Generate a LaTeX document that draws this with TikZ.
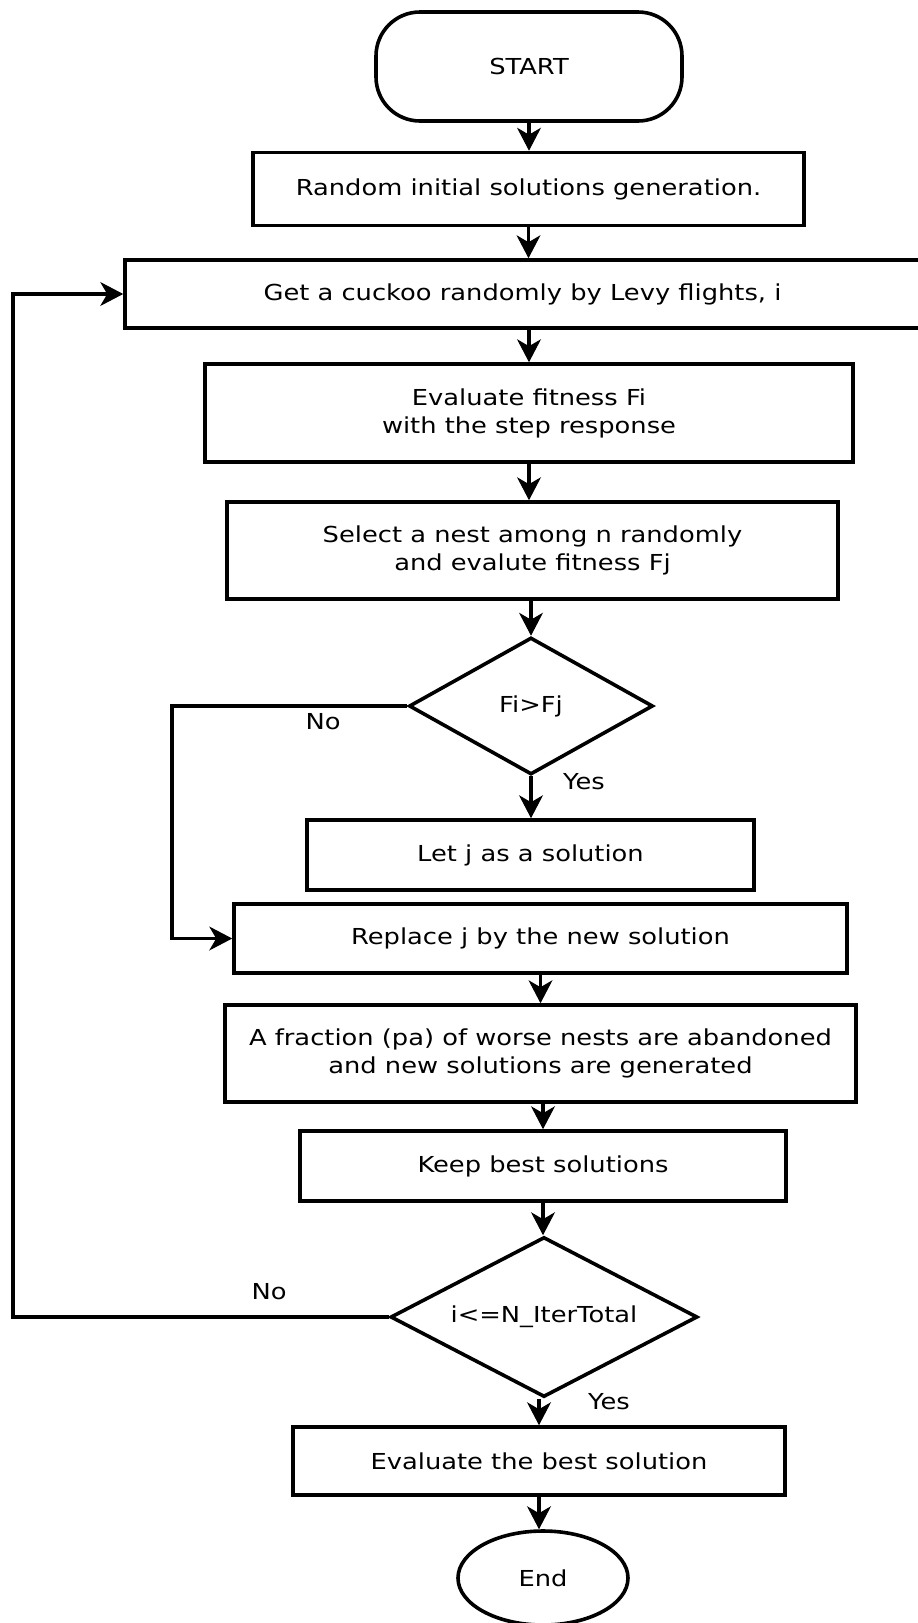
\documentclass[tikz,border=0pt]{standalone}
\usepackage{fontspec}
\setmainfont{DejaVu Sans}[FakeStretch=1.17]
\usetikzlibrary{shapes.geometric,arrows.meta}
\begin{document}
\begin{tikzpicture}[x=1pt,y=-1pt,
  line width=3.6pt,
  every node/.style={font=\fontsize{22}{28}\selectfont, inner sep=0pt, align=center},
  proc/.style={draw, rectangle},
  term/.style={draw, rectangle, rounded corners=44pt},
  endterm/.style={draw, ellipse},
  decision/.style={draw, diamond, shape aspect=1.9},
  arr/.style={-{Stealth[length=23pt,width=24pt,inset=7pt,line width=1pt]}},
]
\useasboundingbox (0,0) rectangle (918,1623);

% process steps
\node[term, minimum width=306pt, minimum height=109pt] (start) at (529,66.5) {START};
\node[proc, minimum width=551pt, minimum height=73pt] (init) at (528.5,189) {Random initial solutions generation.};
\node[proc, minimum width=795pt, minimum height=68pt] (levy) at (522.5,294) {Get a cuckoo randomly by Levy flights, i};
\node[proc, minimum width=648pt, minimum height=98pt] (evalfi) at (529,413) {Evaluate fitness Fi\\with the step response};
\node[proc, minimum width=611pt, minimum height=97pt] (select) at (532.5,550.5) {Select a nest among n randomly\\and evalute fitness Fj};
\node[decision, minimum width=244pt, minimum height=137pt] (dec1) at (531,706) {Fi>Fj};
\node[proc, minimum width=447pt, minimum height=70pt] (letj) at (530.5,855) {Let j as a solution};
\node[proc, minimum width=613pt, minimum height=69pt] (replace) at (540.5,938.5) {Replace j by the new solution};
\node[proc, minimum width=631pt, minimum height=97pt] (fraction) at (540.5,1053.5) {A fraction (pa) of worse nests are abandoned\\and new solutions are generated};
\node[proc, minimum width=486pt, minimum height=70pt] (keep) at (543,1166) {Keep best solutions};
\node[decision, minimum width=307pt, minimum height=160pt] (dec2) at (544,1317) {i<=N\_IterTotal};
\node[proc, minimum width=492pt, minimum height=68pt] (best) at (539,1461) {Evaluate the best solution};
\node[endterm, minimum width=170pt, minimum height=94pt] (end) at (543,1578) {End};

% branch labels
\node (no1) at (323,722) {No};
\node (yes1) at (584,782) {Yes};
\node (no2) at (269,1292) {No};
\node (yes2) at (609,1402) {Yes};

% main flow
\draw[arr] (start) -- (start |- init.north);
\draw[arr] (init) -- (init |- levy.north);
\draw[arr] (evalfi |- levy.south) -- (evalfi);
\draw[arr] (evalfi) -- (evalfi |- select.north);
\draw[arr] (dec1 |- select.south) -- (dec1);
\draw[arr] (dec1) -- (dec1 |- letj.north);
\draw[arr] (fraction |- replace.south) -- (fraction);
\draw[arr] (keep |- fraction.south) -- (keep);
\draw[arr] (keep) -- (keep |- dec2.north);
\draw[arr] (best |- dec2.south) -- (best);
\draw[arr] (best) -- (best |- end.north);

% loops back
\coordinate (smallloop) at (172,800);
\coordinate (bigloop) at (13,800);
\draw[arr] (dec1.west) -| (smallloop) |- (replace.west);
\draw[arr] (dec2.west) -| (bigloop) |- (levy.west);
\end{tikzpicture}
\end{document}
